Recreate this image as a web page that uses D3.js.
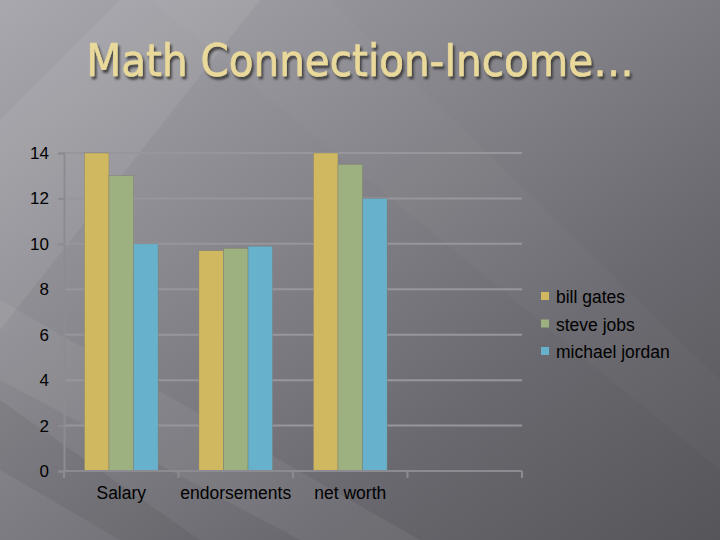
<!DOCTYPE html>
<html><head><meta charset="utf-8">
<script src="https://cdn.jsdelivr.net/npm/d3@7"></script>
<style>html,body{margin:0;padding:0;background:#6e6d73;}svg{display:block;}</style>
</head><body>
<script>
const categories = ["Salary", "endorsements", "net worth", ""];
const seriesNames = ["bill gates", "steve jobs", "michael jordan"];
const billGates = [14, 9.7, 14];
const steveJobs = [13, 9.8, 13.5];
const michaelJordan = [10, 9.9, 12];
const seriesValues = [billGates, steveJobs, michaelJordan];
const yTicks = [0, 2, 4, 6, 8, 10, 12, 14];
const colors = ["#cfb860", "#9cb17f", "#67b1cd"];
const title = "Math Connection-Income…";

const W = 720, H = 540;
const svg = d3.select("body").append("svg").attr("width", W).attr("height", H);
const defs = svg.append("defs");
const bg = defs.append("linearGradient").attr("id", "bg").attr("x1", "0").attr("y1", "0").attr("x2", "1").attr("y2", "1");
bg.append("stop").attr("offset", "0").attr("stop-color", "#a9a8ae");
bg.append("stop").attr("offset", "0.35").attr("stop-color", "#8a898f");
bg.append("stop").attr("offset", "0.7").attr("stop-color", "#6a696f");
bg.append("stop").attr("offset", "1").attr("stop-color", "#56555a");
svg.append("rect").attr("width", W).attr("height", H).attr("fill", "url(#bg)");
// diagonal light streaks
const streaks = [
  [[0,120],[120,0],[260,0],[0,330]],
  [[0,300],[420,540],[300,540],[0,380]],
  [[150,0],[330,0],[720,380],[720,470]]
];
const sOp = [0.07, 0.06, 0.025];
streaks.forEach((p,i)=>svg.append("polygon").attr("points", p.map(d=>d.join(",")).join(" ")).attr("fill","#ffffff").attr("opacity", sOp[i]));
svg.append("polygon").attr("points","0,400 0,470 120,540 200,540").attr("fill","#000").attr("opacity",0.06);

// title with drop shadow
const tf = defs.append("filter").attr("id","sh").attr("x","-10%").attr("y","-20%").attr("width","120%").attr("height","150%");
tf.append("feDropShadow").attr("dx",2).attr("dy",3).attr("stdDeviation",1.2).attr("flood-color","#2e2d32").attr("flood-opacity",0.8);
svg.append("text").attr("x", 360).attr("y", 76).attr("text-anchor","middle")
  .attr("font-family","'DejaVu Sans Condensed', 'DejaVu Sans', sans-serif").attr("font-size", 45)
  .attr("fill","#e9d99b").attr("stroke","#e9d99b").attr("stroke-width",0.6)
  .attr("filter","url(#sh)").text(title);

const x0 = 64, x1 = 522, yTop = 153, yBot = 471;
const x = d3.scaleBand().domain(categories.map((c,i)=>i)).range([x0, x1]).paddingInner(0).paddingOuter(0);
const xs = d3.scaleBand().domain(seriesNames).range([0, x.bandwidth()]).paddingInner(0.0).paddingOuter(0.83);
const y = d3.scaleLinear().domain([0, 14]).range([yBot, yTop]);

const g = svg.append("g");
// gridlines
g.selectAll("line.grid").data(yTicks.filter(t=>t>0)).join("line")
  .attr("x1", x0).attr("x2", x1).attr("y1", d=>y(d)).attr("y2", d=>y(d))
  .attr("stroke","#97969c").attr("stroke-width",2);

// bars
seriesNames.forEach((s, si) => {
  g.selectAll("rect.s"+si).data(seriesValues[si]).join("rect")
    .attr("x", (d,i)=>x(i)+xs(s)).attr("width", xs.bandwidth())
    .attr("y", d=>y(d)).attr("height", d=>yBot - y(d))
    .attr("fill", colors[si]).attr("stroke","#7d7a6a").attr("stroke-width",0.4);
});

// y axis
const yAxis = d3.axisLeft(y).tickValues(yTicks).tickSize(6).tickPadding(9);
const ya = svg.append("g").attr("transform", `translate(${x0},0)`).call(yAxis);
ya.select(".domain").attr("stroke","#8c8b91").attr("stroke-width",2);
ya.selectAll(".tick line").attr("stroke","#8c8b91").attr("stroke-width",2);
ya.selectAll("text").attr("font-family","Arial, 'Liberation Sans', sans-serif").attr("font-size",17).attr("fill","#000");

// x axis
const xAxis = d3.axisBottom(x).tickSize(0).tickFormat(i=>categories[i]).tickPadding(16);
const xa = svg.append("g").attr("transform", `translate(0,${yBot})`).call(xAxis);
xa.select(".domain").remove();
xa.selectAll("text").attr("font-family","Arial, 'Liberation Sans', sans-serif").attr("font-size",17.5).attr("fill","#000");
svg.append("line").attr("x1", x0).attr("x2", x1).attr("y1", yBot).attr("y2", yBot).attr("stroke","#8c8b91").attr("stroke-width",2);
const bounds = categories.map((c,i)=>x(i)).concat([x1]);
svg.selectAll("line.xt").data(bounds).join("line").attr("x1",d=>d).attr("x2",d=>d).attr("y1",yBot).attr("y2",yBot+7).attr("stroke","#8c8b91").attr("stroke-width",2);

// legend
const lg = svg.append("g").attr("transform","translate(541,297)");
seriesNames.forEach((s,i)=>{
  const row = lg.append("g").attr("transform",`translate(0,${i*27.5})`);
  row.append("rect").attr("x",0).attr("y",-5).attr("width",8).attr("height",8).attr("fill",colors[i]);
  row.append("text").attr("x",15).attr("y",6).attr("font-family","Arial, 'Liberation Sans', sans-serif").attr("font-size",17.5).attr("fill","#000").text(s);
});
</script>
</body></html>
